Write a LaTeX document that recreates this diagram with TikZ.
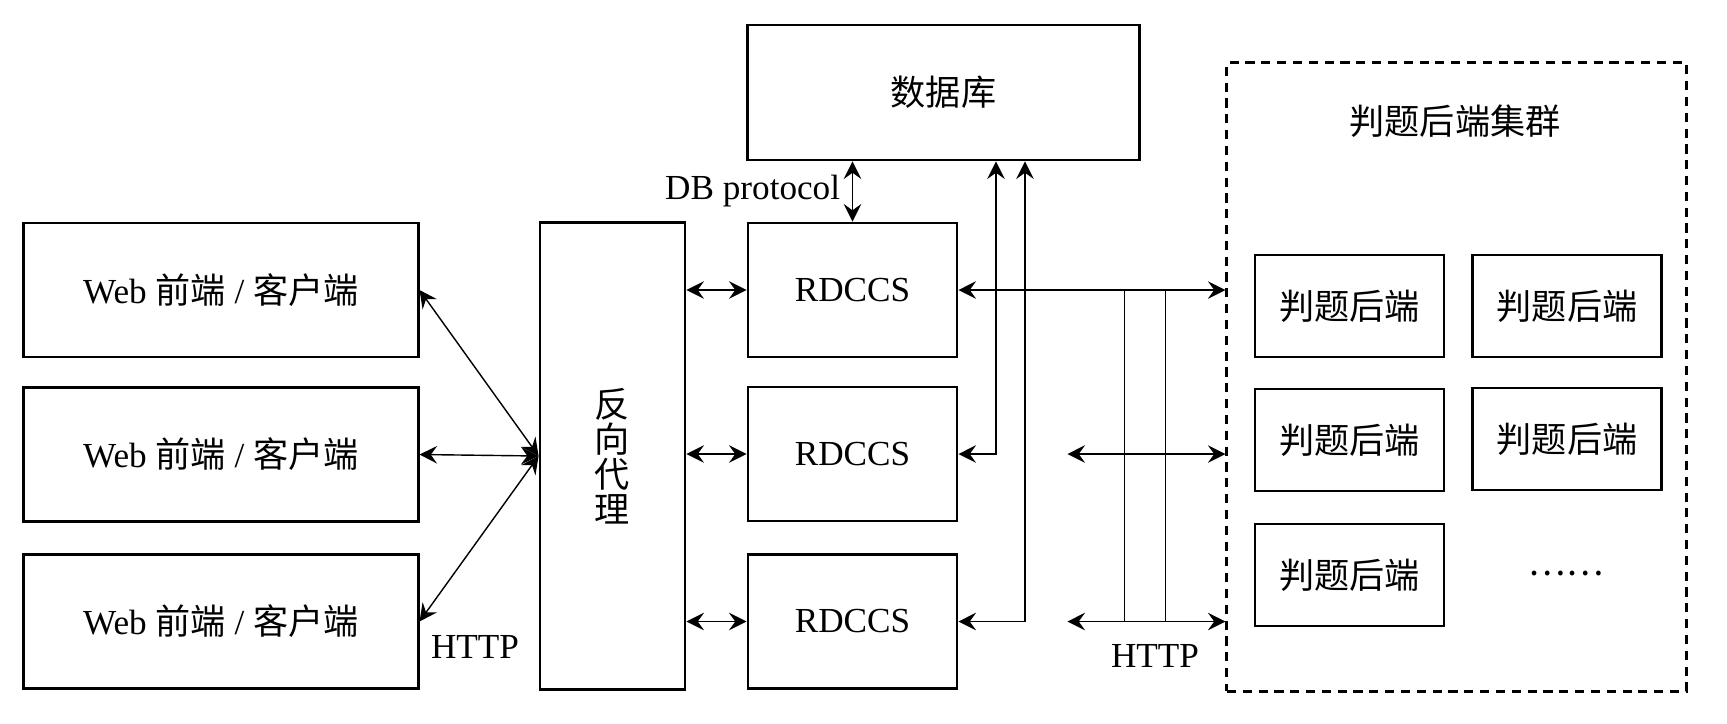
\documentclass[tikz,border=0pt]{standalone}
\usepackage{fontspec}
\setmainfont{Liberation Serif}
\newfontfamily\cjk{Noto Sans CJK SC}
\usetikzlibrary{arrows.meta,positioning}

\begin{document}
\begin{tikzpicture}[x=0.01cm,y=-0.01cm]
	\tikzstyle{client} = [draw,thick,inner sep=0,minimum width=3.94cm,minimum height=1.34cm];
	\tikzstyle{server} = [draw,thick,inner sep=0,minimum width=2.09cm,minimum height=1.34cm];
	\tikzstyle{judge} = [draw,thick,inner sep=0,minimum width=1.89cm,minimum height=1.02cm,font=\cjk];
	\tikzstyle{link} = [<->,>={Stealth[length=5pt,width=5pt,inset=1.8pt]}];
	\useasboundingbox (0,0) rectangle (1727,723);
	\node at (221,290) (web1) [client] {Web {\cjk 前端} / {\cjk 客户端}};
	\node at (221,454.5) (web2) [client] {Web {\cjk 前端} / {\cjk 客户端}};
	\node at (221,621.5) (web3) [client] {Web {\cjk 前端} / {\cjk 客户端}};
	\node at (612.5,456) (proxy) [draw,thick,inner sep=0,minimum width=1.45cm,minimum height=4.66cm,align=center,font={\cjk\fontsize{10pt}{10pt}\selectfont}] {反\\向\\代\\理};
	\node at (852.5,290) (rdccs1) [server] {RDCCS};
	\node at (852.5,454) (rdccs2) [server] {RDCCS};
	\node at (852.5,621.5) (rdccs3) [server] {RDCCS};
	\node at (943.5,92.5) (db) [draw,thick,inner sep=0,minimum width=3.91cm,minimum height=1.35cm,font=\cjk] {数据库};
	\node at (1456.5,377) (cluster) [draw,thick,dash pattern=on 2.6pt off 1.9pt,minimum width=4.59cm,minimum height=6.28cm] {};
	\node at (1455,121) (title) [font=\cjk] {判题后端集群};
	\node at (1349.5,306) (judge11) [judge] {判题后端};
	\node at (1567,306) (judge12) [judge] {判题后端};
	\node at (1349.5,440) (judge21) [judge] {判题后端};
	\node at (1567,439) (judge22) [judge] {判题后端};
	\node at (1349.5,575) (judge31) [judge] {判题后端};
	\node at (1566,573) (more) [font=\cjk] {……};
	% clients to proxy
	\draw[link] (web1.east) -- (proxy.west);
	\draw[link] (web2.east) -- (proxy.west);
	\draw[link] (web3.east) -- (proxy.west);
	\node at (475,647) (http1) {HTTP};
	\foreach \i in {1,2,3}
		\draw[link] (proxy.east |- rdccs\i.west) -- (rdccs\i.west);
	% database
	\draw[link] (rdccs1.north) -- (rdccs1.north |- db.south) node (dbp) [midway,left] {DB protocol};
	\path (db.south) ++(52.5,0) coordinate (db_in2) ++(29,0) coordinate (db_in3);
	\draw[link] (rdccs2.east) -| (db_in2);
	\draw[link] (rdccs3.east) -| (db_in3);
	% judge cluster
	\draw[link] (rdccs1.east) -- (rdccs1.east -| cluster.west);
	\path (rdccs2.east) ++(109,0) coordinate (bus2);
	\path (rdccs3.east) ++(109,0) coordinate (bus3);
	\draw[link] (bus2) -- (bus2 -| cluster.west);
	\draw[link] (bus3) -- (bus3 -| cluster.west);
	\path (rdccs1.east) ++(166,0) coordinate (tap1) ++(41,0) coordinate (tap2);
	\draw (tap1) -- (tap1 |- bus3) (tap2) -- (tap2 |- bus3);
	\node at (1155,656) (http2) {HTTP};
\end{tikzpicture}
\end{document}
